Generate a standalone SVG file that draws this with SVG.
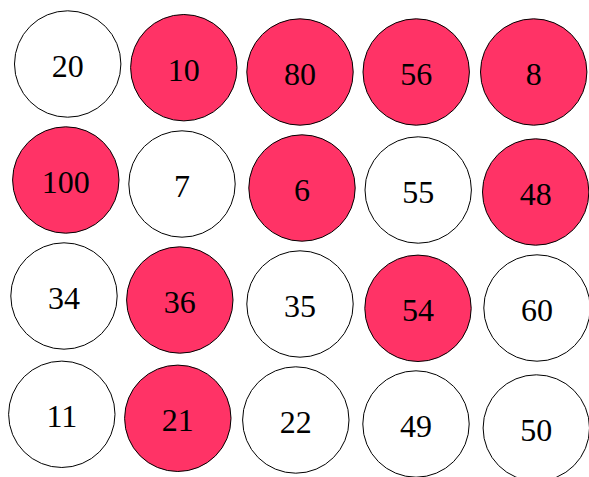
<svg xmlns="http://www.w3.org/2000/svg" width="589" height="477" viewBox="0 0 589 477">
<style>
  .c { stroke: #000; stroke-width: 1; }
  .w { fill: #ffffff; }
  .r { fill: #ff3366; }
  .t { font-family: "Liberation Serif", "Times New Roman", serif; font-size: 32px; fill: #000; text-anchor: middle; }
</style>
<rect width="589" height="477" fill="#ffffff"/>
<g id="connectors"></g>
<g id="n20"><circle class="c w" cx="67.7" cy="64" r="53.2"/><text class="t" x="67.7" y="77">20</text></g>
<g id="n10"><circle class="c r" cx="183.8" cy="67.7" r="53.2"/><text class="t" x="183.8" y="81">10</text></g>
<g id="n80"><circle class="c r" cx="300" cy="72" r="53.2"/><text class="t" x="300" y="85">80</text></g>
<g id="n56"><circle class="c r" cx="416.2" cy="72" r="53.2"/><text class="t" x="416.2" y="85">56</text></g>
<g id="n8"><circle class="c r" cx="533.7" cy="72" r="53.2"/><text class="t" x="533.7" y="85">8</text></g>

<g id="n100"><circle class="c r" cx="65.8" cy="180" r="53.2"/><text class="t" x="65.8" y="193">100</text></g>
<g id="n7"><circle class="c w" cx="182" cy="184" r="53.2"/><text class="t" x="182" y="197">7</text></g>
<g id="n6"><circle class="c r" cx="302" cy="188" r="53.2"/><text class="t" x="302" y="201">6</text></g>
<g id="n55"><circle class="c w" cx="418.2" cy="190" r="53.2"/><text class="t" x="418.2" y="203">55</text></g>
<g id="n48"><circle class="c r" cx="535.7" cy="192" r="53.2"/><text class="t" x="535.7" y="205">48</text></g>

<g id="n34"><circle class="c w" cx="64" cy="296" r="53.2"/><text class="t" x="64" y="309">34</text></g>
<g id="n36"><circle class="c r" cx="179.8" cy="300" r="53.2"/><text class="t" x="179.8" y="313">36</text></g>
<g id="n35"><circle class="c w" cx="300" cy="304" r="53.2"/><text class="t" x="300" y="317">35</text></g>
<g id="n54"><circle class="c r" cx="418" cy="308.3" r="53.2"/><text class="t" x="418" y="321">54</text></g>
<g id="n60"><circle class="c w" cx="537" cy="308" r="53.2"/><text class="t" x="537" y="321">60</text></g>

<g id="n11"><circle class="c w" cx="61.8" cy="414.3" r="53.2"/><text class="t" x="61.8" y="427">11</text></g>
<g id="n21"><circle class="c r" cx="177.8" cy="418.3" r="53.2"/><text class="t" x="177.8" y="431">21</text></g>
<g id="n22"><circle class="c w" cx="295.8" cy="420" r="53.2"/><text class="t" x="295.8" y="433">22</text></g>
<g id="n49"><circle class="c w" cx="416" cy="424" r="53.2"/><text class="t" x="416" y="437">49</text></g>
<g id="n50"><circle class="c w" cx="536.3" cy="428" r="53.2"/><text class="t" x="536.3" y="441">50</text></g>
</svg>
